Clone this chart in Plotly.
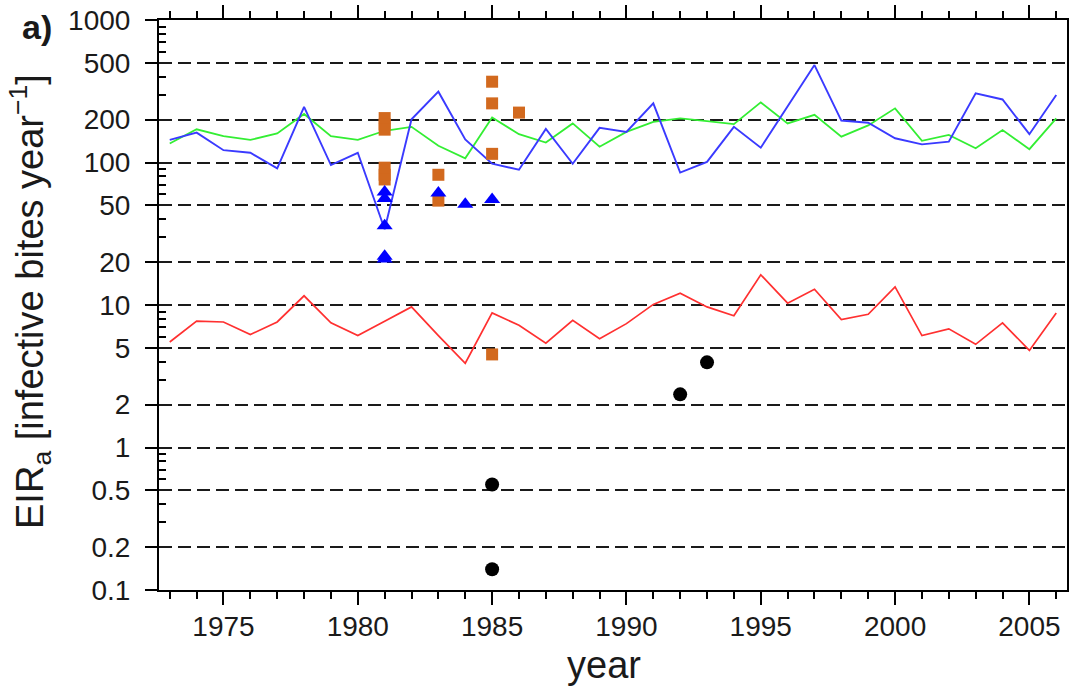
import plotly.graph_objects as go

# Annual series
years = list(range(1973, 2007))
blue_line = [144, 162, 122, 117, 91, 246, 96, 117, 34, 201, 314, 145, 98, 89, 172,
             98, 175, 164, 260, 85, 101, 178, 127, 245, 483, 197, 190, 148, 134, 140,
             306, 277, 158, 298]
green_line = [136, 171, 153, 144, 160, 219, 153, 144, 167, 178, 131, 107, 207, 158, 138,
              188, 129, 164, 193, 204, 195, 186, 264, 188, 216, 152, 182, 240, 142, 156,
              126, 169, 124, 204]
red_line = [5.5, 7.7, 7.6, 6.2, 7.6, 11.6, 7.5, 6.1, 7.7, 9.7, 6.1, 3.9, 8.8, 7.2, 5.4,
            7.8, 5.8, 7.4, 10.1, 12.1, 9.7, 8.4, 16.3, 10.3, 12.9, 7.9, 8.6, 13.4, 6.1, 6.8,
            5.3, 7.5, 4.8, 8.8]

# Field observations
square_years = [1981, 1981, 1981, 1981, 1981, 1981, 1983, 1983, 1985, 1985, 1985, 1985, 1986]
square_vals = [205, 185, 170, 92, 82, 76, 82, 54, 369, 260, 115, 4.5, 224]
triangle_years = [1981, 1981, 1981, 1981, 1981, 1983, 1984, 1985]
triangle_vals = [62, 56, 36, 22, 21, 61, 51, 55]
circle_years = [1985, 1985, 1992, 1993]
circle_vals = [0.55, 0.14, 2.36, 3.96]

# Axis labelling
y_tickvals = [0.1, 0.2, 0.5, 1, 2, 5, 10, 20, 50, 100, 200, 500, 1000]
y_ticktext = ["0.1", "0.2", "0.5", "1", "2", "5", "10", "20", "50", "100", "200", "500", "1000"]
y_minor = [m * d for d in (0.1, 1, 10, 100) for m in (3, 4, 6, 7, 8, 9)]

fig = go.Figure()
fig.add_trace(go.Scatter(x=years, y=green_line, mode="lines",
                         line=dict(color="#33ee33", width=1.8), showlegend=False))
fig.add_trace(go.Scatter(x=years, y=blue_line, mode="lines",
                         line=dict(color="#3a3aff", width=1.9), showlegend=False))
fig.add_trace(go.Scatter(x=years, y=red_line, mode="lines",
                         line=dict(color="#ff3030", width=1.7), showlegend=False))
fig.add_trace(go.Scatter(x=square_years, y=square_vals, mode="markers",
                         marker=dict(symbol="square", size=12, color="#d2691e",
                                     line=dict(width=0)), showlegend=False))
fig.add_trace(go.Scatter(x=triangle_years, y=triangle_vals, mode="markers",
                         marker=dict(symbol="triangle-up", size=14, color="#0000ff",
                                     line=dict(width=0)), showlegend=False))
fig.add_trace(go.Scatter(x=circle_years, y=circle_vals, mode="markers",
                         marker=dict(symbol="circle", size=14, color="#000000",
                                     line=dict(width=0)), showlegend=False))

tick_font = dict(family="Liberation Sans, Arial, sans-serif", size=28, color="#1a1a1a")

fig.update_xaxes(
    range=[1972.6, 2006.4], tickmode="linear", tick0=1975, dtick=5,
    ticks="outside", ticklen=13, tickwidth=2, tickcolor="black", ticklabelstandoff=-3,
    minor=dict(tick0=1975, dtick=1, ticks="outside", ticklen=7, tickwidth=2,
               tickcolor="black", showgrid=False),
    showline=True, linewidth=2, linecolor="black", mirror="ticks",
    showgrid=False, zeroline=False, tickfont=tick_font,
)
fig.update_yaxes(
    type="log", range=[-1, 3], tickmode="array", tickvals=y_tickvals, ticktext=y_ticktext,
    ticks="outside", ticklen=12, tickwidth=2, tickcolor="black", ticklabelstandoff=9,
    minor=dict(tickmode="array", tickvals=y_minor, ticks="inside", ticklen=7, tickwidth=2,
               tickcolor="black", showgrid=False),
    showline=True, linewidth=2, linecolor="black", mirror=True,
    showgrid=True, gridcolor="#1a1a1a", gridwidth=2, griddash="13px,6px",
    zeroline=False, tickfont=tick_font,
)

title_font = dict(family="Liberation Sans, Arial, sans-serif", size=38, color="#1a1a1a")
fig.add_annotation(text="EIR<sub>a</sub> [infective bites year<sup>−1</sup>]",
                   xref="paper", yref="paper", x=-0.1421, y=0.507, textangle=-90,
                   xanchor="center", yanchor="middle", showarrow=False, font=title_font)
fig.add_annotation(text="year", xref="paper", yref="paper", x=0.490, y=-0.1316,
                   xanchor="center", yanchor="middle", showarrow=False, font=title_font)
fig.add_annotation(text="<b>a)</b>", xref="paper", yref="paper", x=-0.1344, y=0.9877,
                   xanchor="center", yanchor="middle", showarrow=False,
                   font=dict(family="Liberation Sans, Arial, sans-serif", size=34,
                             color="#1a1a1a"))

fig.update_layout(
    width=1075, height=695,
    margin=dict(l=159, r=8, t=20, b=105, autoexpand=False),
    plot_bgcolor="white", paper_bgcolor="white",
)

fig.write_html("out.html")
